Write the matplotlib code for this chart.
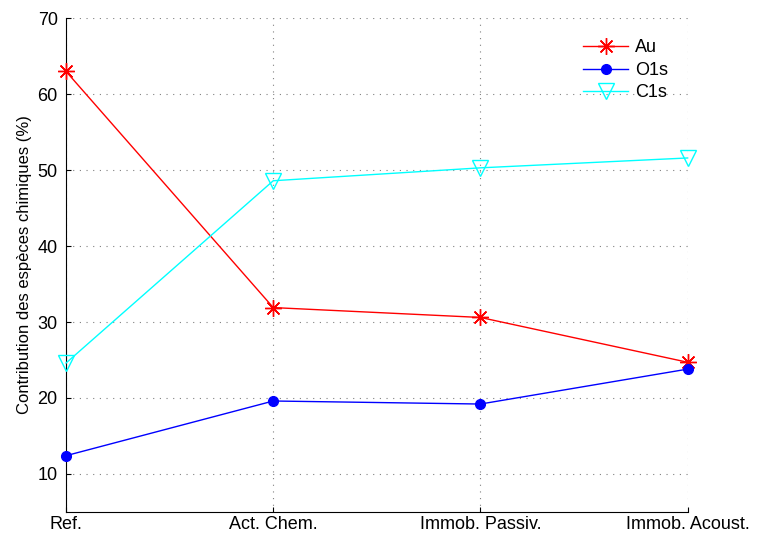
import matplotlib
matplotlib.use("Agg")
import matplotlib.pyplot as plt

# sample stages and species contributions (%)
stages = ["Ref.", "Act. Chem.", "Immob. Passiv.", "Immob. Acoust."]
au = [63.0, 31.9, 30.6, 24.7]
o1s = [12.4, 19.6, 19.2, 23.8]
c1s = [24.6, 48.6, 50.3, 51.6]

plt.rcParams['font.family'] = ['Liberation Sans', 'DejaVu Sans']

fig = plt.figure(figsize=(7.59, 5.36), dpi=100)
ax = fig.add_axes([0.087, 0.045, 0.819, 0.921])

x = list(range(len(stages)))
ax.plot(x, au, color="red", marker=(8, 2, 0), markersize=12, mew=1, lw=1,
        label="Au", clip_on=False, zorder=3)
ax.plot(x, o1s, color="blue", marker="o", markersize=7, lw=1,
        label="O1s", clip_on=False, zorder=3)
ax.plot(x, c1s, color="cyan", marker="v", markersize=12, mfc="none", lw=1,
        label="C1s", clip_on=False, zorder=3)

ax.set_xlim(0, 3)
ax.set_ylim(5, 70)
ax.set_xticks(x)
ax.set_xticklabels(stages)
ax.set_yticks(range(10, 71, 10))
ax.tick_params(direction="in", labelsize=13, pad=6)
ax.tick_params(axis="x", pad=3)
ax.set_ylabel("Contribution des espèces chimiques (%)", fontsize=12)
ax.grid(True, linestyle=(0, (1, 5)), color="gray", lw=0.8)
ax.spines["top"].set_visible(False)
ax.spines["right"].set_visible(False)

ax.legend(loc="upper right", frameon=False, fontsize=13, bbox_to_anchor=(0.995, 0.99),
          handlelength=2.5, handletextpad=0.4, labelspacing=0.3)

fig.savefig("out.png", dpi=100)
